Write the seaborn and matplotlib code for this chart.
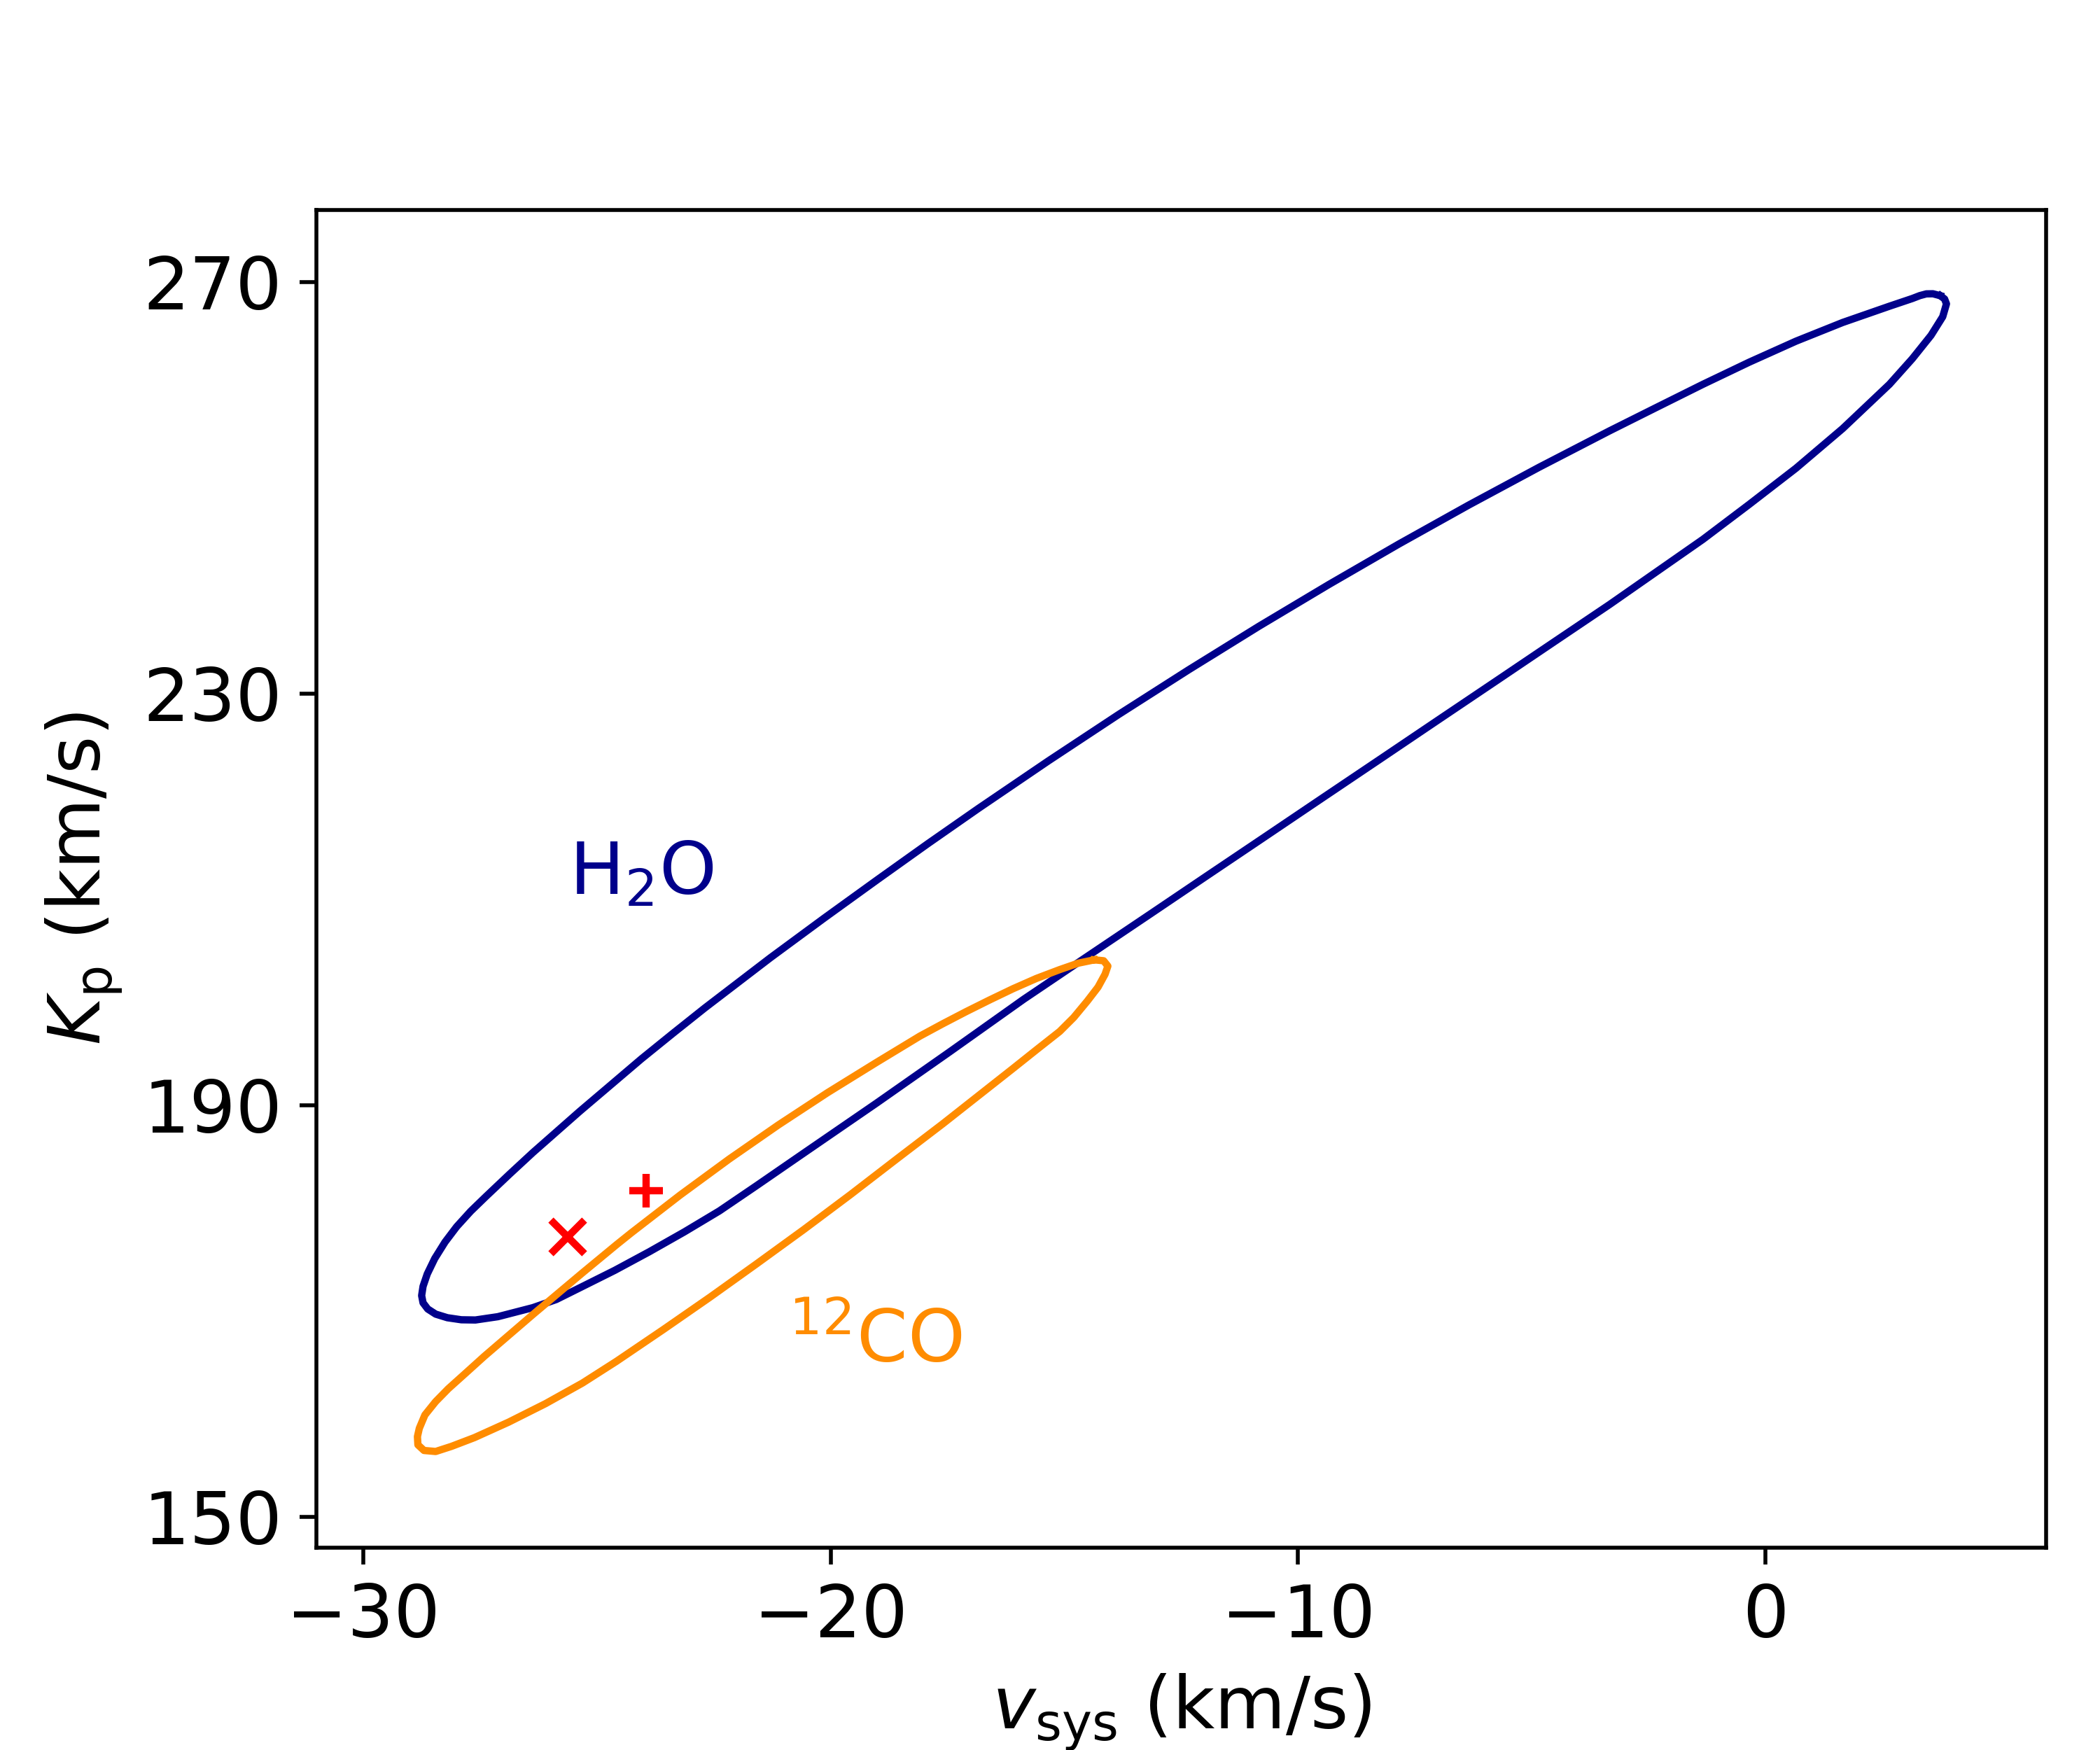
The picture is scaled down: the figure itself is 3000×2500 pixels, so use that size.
import numpy as np
import pandas as pd
import seaborn as sns
import matplotlib.pyplot as plt

# contour outlines (v_sys, K_p), in km/s
h2o_vsys = [3.74, 3.58, 3.44, 3.30, 3.14, 2.65, 1.65, 0.65, -0.35, -1.34, -2.34, -3.34,
            -4.84, -6.34, -7.84, -9.34, -10.84, -12.34, -13.84, -15.34, -16.84,
            -17.92, -19.00, -20.14, -21.29, -22.69, -23.37, -24.05, -24.80, -25.37,
            -25.87, -26.37, -26.87, -27.37, -27.70, -28.00, -28.25, -28.47, -28.63,
            -28.72, -28.75, -28.72, -28.62, -28.45, -28.20, -27.90, -27.60, -27.12,
            -26.37, -25.87, -25.37, -24.62, -23.88, -23.13, -22.38, -21.58, -20.59,
            -19.02, -17.45, -15.87, -14.61, -13.14, -11.95, -10.71, -9.47, -8.23,
            -6.99, -5.75, -4.51, -3.34, -2.34, -1.34, -0.35, 0.65, 1.65, 2.65, 3.14,
            3.54, 3.79, 3.87, 3.83, 3.74]
h2o_kp = [268.67, 268.86, 268.85, 268.68, 268.40, 267.65, 266.07, 264.25, 262.21, 260.06,
          257.80, 255.53, 252.01, 248.35, 244.55, 240.61, 236.54, 232.32, 227.97, 223.47,
          218.84, 215.42, 211.92, 208.18, 204.33, 199.46, 197.00, 194.50, 191.60, 189.40,
          187.40, 185.40, 183.30, 181.15, 179.70, 178.20, 176.70, 175.10, 173.60,
          172.40, 171.50, 170.80, 170.20, 169.70, 169.35, 169.15, 169.13, 169.45,
          170.33, 171.12, 172.25, 173.95, 175.76, 177.69, 179.73, 182.20, 185.30,
          190.20, 195.20, 200.30, 204.16, 208.65, 212.30, 216.09, 219.89, 223.68,
          227.48, 231.27, 235.07, 238.65, 241.82, 244.99, 248.39, 251.90, 255.76,
          260.06, 262.55, 264.82, 266.63, 267.88, 268.35, 268.67]

co_vsys = [-14.36, -14.16, -14.07, -14.13, -14.28, -14.51, -14.80, -15.10, -15.60,
           -16.10, -16.60, -17.10, -17.60, -18.58, -19.58, -20.58, -21.58, -22.58,
           -23.58, -24.58, -25.31, -26.10, -26.89, -27.62, -28.11, -28.45, -28.70,
           -28.83, -28.84, -28.80, -28.68, -28.45, -28.18, -27.80, -27.41, -26.36,
           -25.31, -24.58, -24.27, -23.22, -22.17, -21.12, -20.07, -19.02, -18.09,
           -17.60, -17.10, -16.60, -16.10, -15.60, -15.10, -14.70, -14.36]
co_kp = [204.13, 204.04, 203.52, 202.73, 201.48, 200.12, 198.53, 197.17, 195.38,
         193.57, 191.78, 189.99, 188.20, 184.80, 181.30, 177.90, 174.60, 171.35,
         168.20, 165.12, 163.00, 161.00, 159.20, 157.70, 156.85, 156.35, 156.45,
         157.00, 157.80, 158.60, 159.90, 161.20, 162.45, 164.00, 165.60, 169.70,
         173.71, 176.45, 177.58, 181.27, 184.77, 188.08, 191.21, 194.16, 196.72,
         197.92, 199.10, 200.23, 201.32, 202.32, 203.18, 203.81, 204.13]

# reference points
x_point = (-25.63, 177.2)
plus_point = (-23.95, 181.7)

xticks = [-30, -20, -10, 0]
yticks = [150, 190, 230, 270]

plt.rcParams['font.family'] = ['DejaVu Sans']
plt.rcParams['mathtext.fontset'] = 'dejavusans'

fig, ax = plt.subplots(figsize=(6, 5), dpi=500)
fig.subplots_adjust(left=0.1507, right=0.9743, bottom=0.1156, top=0.88)

h2o = pd.DataFrame({'vsys': h2o_vsys, 'kp': h2o_kp})
co = pd.DataFrame({'vsys': co_vsys, 'kp': co_kp})

sns.lineplot(data=h2o, x='vsys', y='kp', sort=False, estimator=None,
             color='darkblue', lw=1.5, ax=ax)
sns.lineplot(data=co, x='vsys', y='kp', sort=False, estimator=None,
             color='darkorange', lw=1.5, ax=ax)
for line in ax.get_lines():
    line.set_solid_joinstyle('round')

ax.plot(*x_point, marker='x', color='red', ms=7, mew=1.5, ls='none')
ax.plot(*plus_point, marker='+', color='red', ms=7, mew=1.5, ls='none')

ax.text(-25.6, 210.5, r'H$_2$O', color='darkblue', fontsize=15)
ax.text(-20.9, 165.0, r'$^{12}$CO', color='darkorange', fontsize=15)

ax.set_xlim(-31, 6)
ax.set_ylim(147, 277)
ax.set_xticks(xticks)
ax.set_yticks(yticks)
ax.tick_params(labelsize=15)
ax.set_xlabel(r'$v_\mathrm{sys}$ (km/s)', fontsize=15)
ax.set_ylabel(r'$K_\mathrm{p}$ (km/s)', fontsize=15)

fig.savefig('out.png', dpi=500)
